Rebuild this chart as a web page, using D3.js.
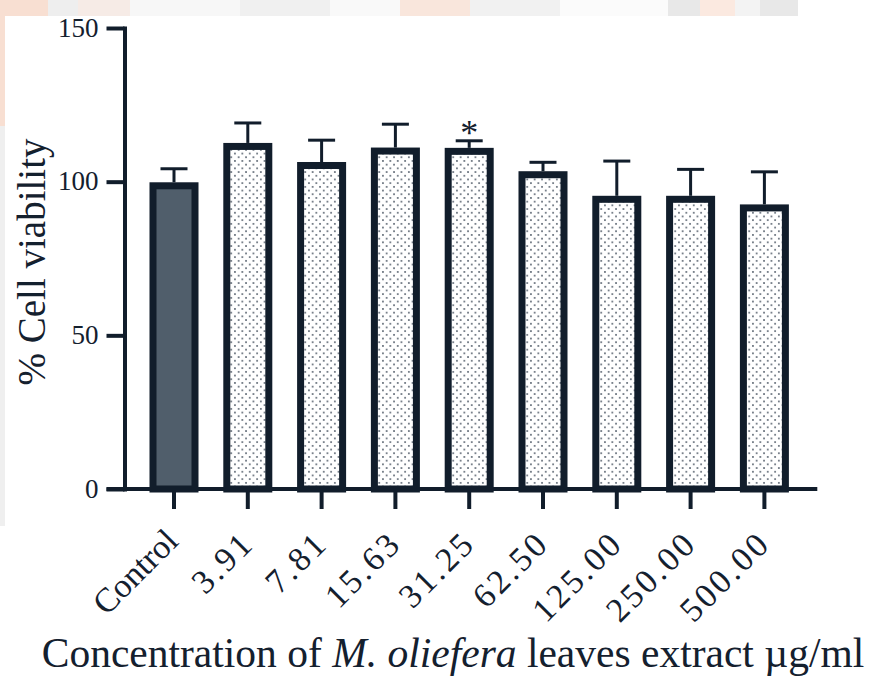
<!DOCTYPE html>
<html>
<head>
<meta charset="utf-8">
<script src="https://cdn.jsdelivr.net/npm/d3@7"></script>
<style>
  html, body { margin: 0; padding: 0; background: #ffffff; }
  svg { display: block; }
  text { font-family: "Liberation Serif", "Times New Roman", serif; fill: #14202e; }
</style>
</head>
<body>
<script>
// Cell viability (% of control) for each extract concentration (µg/ml)
const categories = ["Control", "3.91", "7.81", "15.63", "31.25", "62.50", "125.00", "250.00", "500.00"];
const meanValues = [99.8, 112.6, 106.4, 111.1, 111.0, 103.4, 95.4, 95.4, 92.6];
const sdValues   = [4.4, 6.5, 7.1, 7.6, 2.3, 2.9, 11.3, 8.6, 10.6];
const significance = ["", "", "", "", "*", "", "", "", ""];
const yTicks = [0, 50, 100, 150];

const W = 877, H = 678;
const ink = "#111d2b";
const serif = "\"Liberation Serif\", \"Times New Roman\", serif";

const svg = d3.select("body").append("svg")
  .attr("width", W).attr("height", H);

// faint background watermark behind the chart panel
const wm = svg.append("g").attr("class", "watermark");
const wmBands = [
  {x0: 0, x1: 48, c: "#f8dfd2"}, {x0: 48, x1: 78, c: "#eeeeee"},
  {x0: 78, x1: 130, c: "#f6ebe6"}, {x0: 130, x1: 240, c: "#f7f7f7"},
  {x0: 240, x1: 330, c: "#f0f0f0"}, {x0: 330, x1: 400, c: "#f9f9f9"},
  {x0: 400, x1: 470, c: "#f9e6dc"}, {x0: 470, x1: 560, c: "#f1f1f1"},
  {x0: 560, x1: 668, c: "#fbfbfb"}, {x0: 668, x1: 700, c: "#e8e8e8"},
  {x0: 700, x1: 735, c: "#fbe9e0"}, {x0: 735, x1: 760, c: "#f3f3f3"},
  {x0: 760, x1: 798, c: "#e8e8e8"}
];
wm.selectAll("rect.band").data(wmBands).join("rect")
  .attr("class", "band")
  .attr("x", d => d.x0).attr("y", 0)
  .attr("width", d => d.x1 - d.x0).attr("height", 16)
  .attr("fill", d => d.c);
wm.append("rect").attr("x", 0).attr("y", 16).attr("width", 5).attr("height", 110).attr("fill", "#f8dfd2");
wm.append("rect").attr("x", 0).attr("y", 126).attr("width", 5).attr("height", 400).attr("fill", "#efefef");

// dotted fill for the treated groups
const defs = svg.append("defs");
const pat = defs.append("pattern")
  .attr("id", "dots").attr("patternUnits", "userSpaceOnUse")
  .attr("width", 7.4).attr("height", 7.4);
pat.append("rect").attr("width", 7.4).attr("height", 7.4).attr("fill", "#ffffff");
pat.append("circle").attr("cx", 1.85).attr("cy", 1.85).attr("r", 0.95).attr("fill", "#4d5865");
pat.append("circle").attr("cx", 5.55).attr("cy", 5.55).attr("r", 0.95).attr("fill", "#4d5865");

const y = d3.scaleLinear().domain([0, 150]).range([489, 28]);
const x = d3.scaleBand().domain(categories)
  .range([137.1, 801.3]).paddingInner(0.336).paddingOuter(0.168);

const rows = categories.map((c, i) => ({cat: c, mean: meanValues[i], sd: sdValues[i], sig: significance[i]}));

const barStroke = 7;
const plot = svg.append("g");

// error bars (upper only)
const capW = 27;
const eb = plot.selectAll("g.err").data(rows).join("g").attr("class", "err");
eb.append("line")
  .attr("x1", d => x(d.cat) + x.bandwidth() / 2).attr("x2", d => x(d.cat) + x.bandwidth() / 2)
  .attr("y1", d => y(d.mean)).attr("y2", d => y(d.mean + d.sd))
  .attr("stroke", ink).attr("stroke-width", 3);
eb.append("line")
  .attr("x1", d => x(d.cat) + x.bandwidth() / 2 - capW / 2).attr("x2", d => x(d.cat) + x.bandwidth() / 2 + capW / 2)
  .attr("y1", d => y(d.mean + d.sd)).attr("y2", d => y(d.mean + d.sd))
  .attr("stroke", ink).attr("stroke-width", 3);

// bars with a heavy border drawn inside the value outline
plot.selectAll("rect.bar").data(rows).join("rect")
  .attr("class", "bar")
  .attr("x", d => x(d.cat) + barStroke / 2)
  .attr("y", d => y(d.mean) + barStroke / 2)
  .attr("width", x.bandwidth() - barStroke)
  .attr("height", d => y(0) - y(d.mean) - barStroke / 2)
  .attr("fill", (d, i) => i === 0 ? "#505e6b" : "url(#dots)")
  .attr("stroke", ink).attr("stroke-width", barStroke);

// significance markers
plot.selectAll("text.sig").data(rows.filter(d => d.sig)).join("text")
  .attr("class", "sig")
  .attr("x", d => x(d.cat) + x.bandwidth() / 2)
  .attr("y", d => y(d.mean + d.sd) + 4)
  .attr("text-anchor", "middle")
  .style("font-size", "36px")
  .text(d => d.sig);

// y axis
const yAxis = svg.append("g").attr("transform", "translate(124.5,0)")
  .call(d3.axisLeft(y).tickValues(yTicks).tickSize(18).tickSizeOuter(0).tickPadding(8));
yAxis.select(".domain").attr("stroke", ink).attr("stroke-width", 4).attr("stroke-linecap", "square");
yAxis.selectAll(".tick line").attr("stroke", ink).attr("stroke-width", 4);
yAxis.selectAll(".tick text").style("font-size", "27px").attr("fill", "#14202e")
  .style("font-family", serif).attr("dy", "0.3em");

// x axis
const xAxis = svg.append("g").attr("transform", `translate(0,${y(0)})`)
  .call(d3.axisBottom(x).tickSize(20).tickSizeOuter(0));
xAxis.select(".domain").remove();
xAxis.append("line")
  .attr("x1", 124.5 - 18).attr("x2", x.range()[1] + 16)
  .attr("y1", 0).attr("y2", 0)
  .attr("stroke", ink).attr("stroke-width", 4);
xAxis.selectAll(".tick line").attr("stroke", ink).attr("stroke-width", 4);
xAxis.selectAll(".tick text")
  .style("font-size", "34px").style("font-family", serif)
  // numeric labels get wider figure spacing
  .style("letter-spacing", d => /^[0-9.]+$/.test(d) ? "3px" : "0px")
  .attr("fill", "#14202e")
  .attr("text-anchor", "end")
  .attr("dy", 0).attr("y", 0)
  .attr("transform", d => /^[0-9.]+$/.test(d) ? "translate(8,56) rotate(-45)" : "translate(6,54) rotate(-45)");

// axis titles
svg.append("text")
  .attr("transform", "translate(45,262) rotate(-90)")
  .attr("text-anchor", "middle")
  .style("font-size", "39px")
  .text("% Cell viability");

const xt = svg.append("text")
  .attr("x", 453).attr("y", 667)
  .attr("text-anchor", "middle")
  .style("font-size", "41.5px");
xt.append("tspan").text("Concentration of ");
xt.append("tspan").style("font-style", "italic").text("M. oliefera");
xt.append("tspan").text(" leaves extract µg/ml");
</script>
</body>
</html>
